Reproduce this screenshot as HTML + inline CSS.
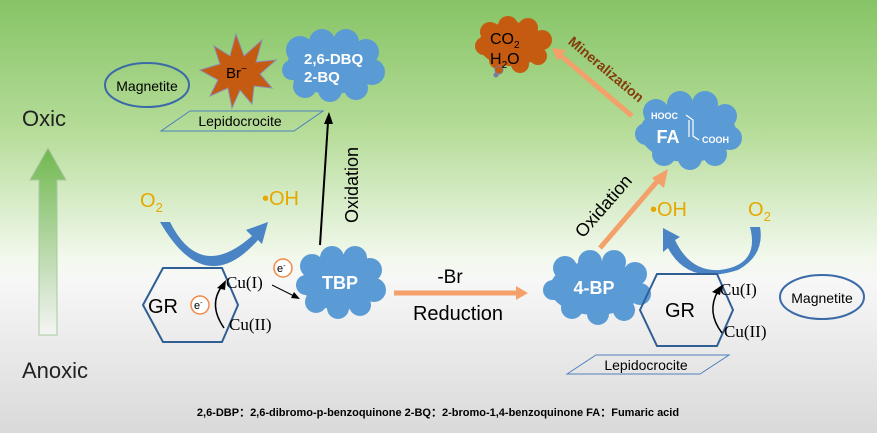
<!DOCTYPE html>
<html><head><meta charset="utf-8"><style>
html,body{margin:0;padding:0;}
svg{display:block;font-family:"Liberation Sans",sans-serif;}
</style></head><body>
<svg width="877" height="433" viewBox="0 0 877 433" xmlns="http://www.w3.org/2000/svg">
<defs>
<linearGradient id="bg" x1="0" y1="0" x2="0" y2="1">
<stop offset="0" stop-color="#86c466"/>
<stop offset="0.3" stop-color="#b5dc98"/>
<stop offset="0.6" stop-color="#f3f9ee"/>
<stop offset="0.65" stop-color="#f7f7f7"/>
<stop offset="1" stop-color="#d9d9d9"/>
</linearGradient>
<linearGradient id="up" x1="0" y1="0" x2="0" y2="1">
<stop offset="0" stop-color="#70b850"/>
<stop offset="1" stop-color="#f4f4f4"/>
</linearGradient>
</defs>
<rect width="877" height="433" fill="url(#bg)"/>

<polygon points="48,148 66,180 57,180 57,335 39,335 39,180 30,180" fill="url(#up)" stroke="#a9c9a0" stroke-width="1"/>
<text x="22" y="126" font-size="22" fill="#222">Oxic</text>
<text x="22" y="378" font-size="22" fill="#222">Anoxic</text>

<ellipse cx="147" cy="85" rx="42" ry="22" fill="none" stroke="#3b6aa8" stroke-width="2"/>
<text x="147" y="91" font-size="14" text-anchor="middle">Magnetite</text>

<polygon points="236,34 244,56 262,40 256,62 276,60 260,74 272,88 254,86 252,104 240,90 232,108 228,88 210,96 218,80 200,70 220,64 214,46 230,56" fill="#c55a11" stroke="#8c8cb0" stroke-width="1"/>
<text x="226" y="78" font-size="15">Br<tspan font-size="10" dy="-6">−</tspan></text>

<polygon points="161,131 190,111 323,111 294,131" fill="none" stroke="#4f81bd" stroke-width="1"/>
<text x="240" y="126" font-size="14" text-anchor="middle">Lepidocrocite</text>

<g fill="#5b9bd5">
<ellipse cx="332" cy="66" rx="45" ry="28"/>
<circle cx="300" cy="50" r="14"/><circle cx="322" cy="42" r="13"/><circle cx="346" cy="42" r="13"/><circle cx="366" cy="52" r="13"/>
<circle cx="372" cy="72" r="13"/><circle cx="356" cy="88" r="12"/><circle cx="330" cy="90" r="12"/><circle cx="305" cy="86" r="12"/><circle cx="292" cy="70" r="10"/>
<ellipse cx="340" cy="283" rx="38" ry="27"/>
<circle cx="312" cy="266" r="12"/><circle cx="332" cy="258" r="12"/><circle cx="355" cy="258" r="12"/><circle cx="370" cy="270" r="12"/>
<circle cx="374" cy="290" r="12"/><circle cx="360" cy="305" r="11"/><circle cx="338" cy="308" r="11"/><circle cx="316" cy="302" r="11"/><circle cx="306" cy="285" r="10"/>
<ellipse cx="596" cy="288" rx="46" ry="27"/>
<circle cx="565" cy="268" r="12"/><circle cx="590" cy="262" r="12"/><circle cx="614" cy="262" r="12"/><circle cx="635" cy="274" r="12"/>
<circle cx="640" cy="294" r="11"/><circle cx="624" cy="310" r="11"/><circle cx="598" cy="314" r="11"/><circle cx="572" cy="308" r="11"/><circle cx="553" cy="290" r="10"/>
<ellipse cx="688" cy="132" rx="48" ry="30"/>
<circle cx="656" cy="112" r="13"/><circle cx="680" cy="104" r="13"/><circle cx="705" cy="104" r="13"/><circle cx="725" cy="116" r="12"/>
<circle cx="730" cy="138" r="12"/><circle cx="715" cy="154" r="12"/><circle cx="690" cy="158" r="12"/><circle cx="664" cy="154" r="12"/><circle cx="646" cy="134" r="11"/>
</g>
<g fill="#c55a11">
<ellipse cx="512" cy="44" rx="33" ry="22"/>
<circle cx="490" cy="32" r="10"/><circle cx="508" cy="26" r="10"/><circle cx="528" cy="28" r="10"/><circle cx="542" cy="40" r="10"/>
<circle cx="538" cy="56" r="9"/><circle cx="520" cy="64" r="9"/><circle cx="498" cy="60" r="9"/><circle cx="484" cy="46" r="9"/>
</g>
<circle cx="499" cy="70" r="4" fill="#c55a11" stroke="#7a7aa0"/><circle cx="496" cy="75" r="2.5" fill="#7a7aa0"/>

<g fill="#fff" font-weight="bold">
<text x="304" y="64" font-size="15">2,6-DBQ</text>
<text x="304" y="82" font-size="15">2-BQ</text>
<text x="340" y="289" font-size="18" text-anchor="middle">TBP</text>
<text x="594" y="294" font-size="18" text-anchor="middle">4-BP</text>
<text x="668" y="143" font-size="18" text-anchor="middle">FA</text>
<text x="651" y="119" font-size="9">HOOC</text>
<text x="702" y="143" font-size="9">COOH</text>
</g>
<path d="M686,115 L693,120 L693,136 L699,140" fill="none" stroke="#fff" stroke-width="1.2"/>
<path d="M689,120 L689,137" fill="none" stroke="#fff" stroke-width="1.2"/>
<text x="490" y="44" font-size="16">CO<tspan font-size="10" dy="4">2</tspan></text>
<text x="490" y="64" font-size="16">H<tspan font-size="10" dy="4">2</tspan><tspan dy="-4">O</tspan></text>

<line x1="320" y1="245" x2="328" y2="122" stroke="#000" stroke-width="2"/>
<polygon points="329,112 324,124 333,124" fill="#000"/>
<text transform="translate(358,185) rotate(-90)" font-size="18" text-anchor="middle">Oxidation</text>

<text x="140" y="207" font-size="20" fill="#e6a800">O<tspan font-size="13" dy="5">2</tspan></text>
<text x="262" y="205" font-size="20" fill="#e6a800">•OH</text>
<path d="M170,222 Q200,282 252,236 L246,230 L268,222 L262,244 L258,240 Q205,300 160,222 Z" fill="#4a84c4"/>

<polygon points="143,305 163,268 222,268 238,305 222,342 163,342" fill="none" stroke="#2f5f94" stroke-width="2"/>
<text x="148" y="313" font-size="20">GR</text>
<circle cx="200" cy="305" r="9" fill="#fff" stroke="#f08a4b" stroke-width="1.5"/>
<text x="194" y="309" font-size="11">e<tspan font-size="7" dy="-4">-</tspan></text>
<text x="226" y="288" font-size="17" font-family="Liberation Serif">Cu(I)</text>
<text x="229" y="330" font-size="17" font-family="Liberation Serif">Cu(II)</text>
<path d="M224,328 Q208,305 222,286" fill="none" stroke="#000" stroke-width="1.5"/>
<polygon points="226,280 217,288 225,290" fill="#000"/>
<circle cx="283" cy="268" r="9" fill="#fff" stroke="#f08a4b" stroke-width="1.5"/>
<text x="277" y="272" font-size="11">e<tspan font-size="7" dy="-4">-</tspan></text>
<line x1="272" y1="285" x2="296" y2="297" stroke="#000" stroke-width="1"/>
<polygon points="300,299 291,298 294,292" fill="#000"/>

<text x="450" y="283" font-size="19" text-anchor="middle">-Br</text>
<line x1="394" y1="293" x2="518" y2="293" stroke="#f4a06a" stroke-width="5"/>
<polygon points="528,293 516,286 516,300" fill="#f4a06a"/>
<text x="458" y="320" font-size="20" text-anchor="middle">Reduction</text>

<line x1="600" y1="248" x2="660" y2="178" stroke="#f4a06a" stroke-width="5"/>
<polygon points="668,169 652,178 664,188" fill="#f4a06a"/>
<text transform="translate(608,210) rotate(-49)" font-size="18" text-anchor="middle">Oxidation</text>

<line x1="632" y1="116" x2="560" y2="55" stroke="#f4a06a" stroke-width="5"/>
<polygon points="552,48 566,50 557,61" fill="#f4a06a"/>
<text transform="translate(603,73) rotate(40)" font-size="14" font-weight="bold" fill="#843c0c" text-anchor="middle">Mineralization</text>

<text x="650" y="216" font-size="20" fill="#e6a800">•OH</text>
<text x="748" y="216" font-size="20" fill="#e6a800">O<tspan font-size="13" dy="5">2</tspan></text>
<path d="M750,227 Q760,265 720,270 Q690,272 675,240 L680,237 L663,228 L663,252 L668,248 Q688,286 738,270 Q765,255 760,227 Z" fill="#4a84c4"/>

<polygon points="640,310 657,274 717,274 733,310 717,346 657,346" fill="none" stroke="#2f5f94" stroke-width="2"/>
<text x="665" y="317" font-size="20">GR</text>
<text x="720" y="295" font-size="17" font-family="Liberation Serif">Cu(I)</text>
<text x="724" y="337" font-size="17" font-family="Liberation Serif">Cu(II)</text>
<path d="M722,333 Q706,312 718,291" fill="none" stroke="#000" stroke-width="1.5"/>
<polygon points="722,285 712,292 720,295" fill="#000"/>

<polygon points="567,374 596,355 729,355 700,374" fill="none" stroke="#4f81bd" stroke-width="1"/>
<text x="646" y="370" font-size="14" text-anchor="middle">Lepidocrocite</text>

<ellipse cx="822" cy="297" rx="42" ry="22" fill="none" stroke="#3b6aa8" stroke-width="2"/>
<text x="822" y="303" font-size="14" text-anchor="middle">Magnetite</text>

<text x="438" y="416" font-size="11" font-weight="bold" text-anchor="middle">2,6-DBP：2,6-dibromo-p-benzoquinone  2-BQ：2-bromo-1,4-benzoquinone  FA：Fumaric acid</text>
</svg>
</body></html>
